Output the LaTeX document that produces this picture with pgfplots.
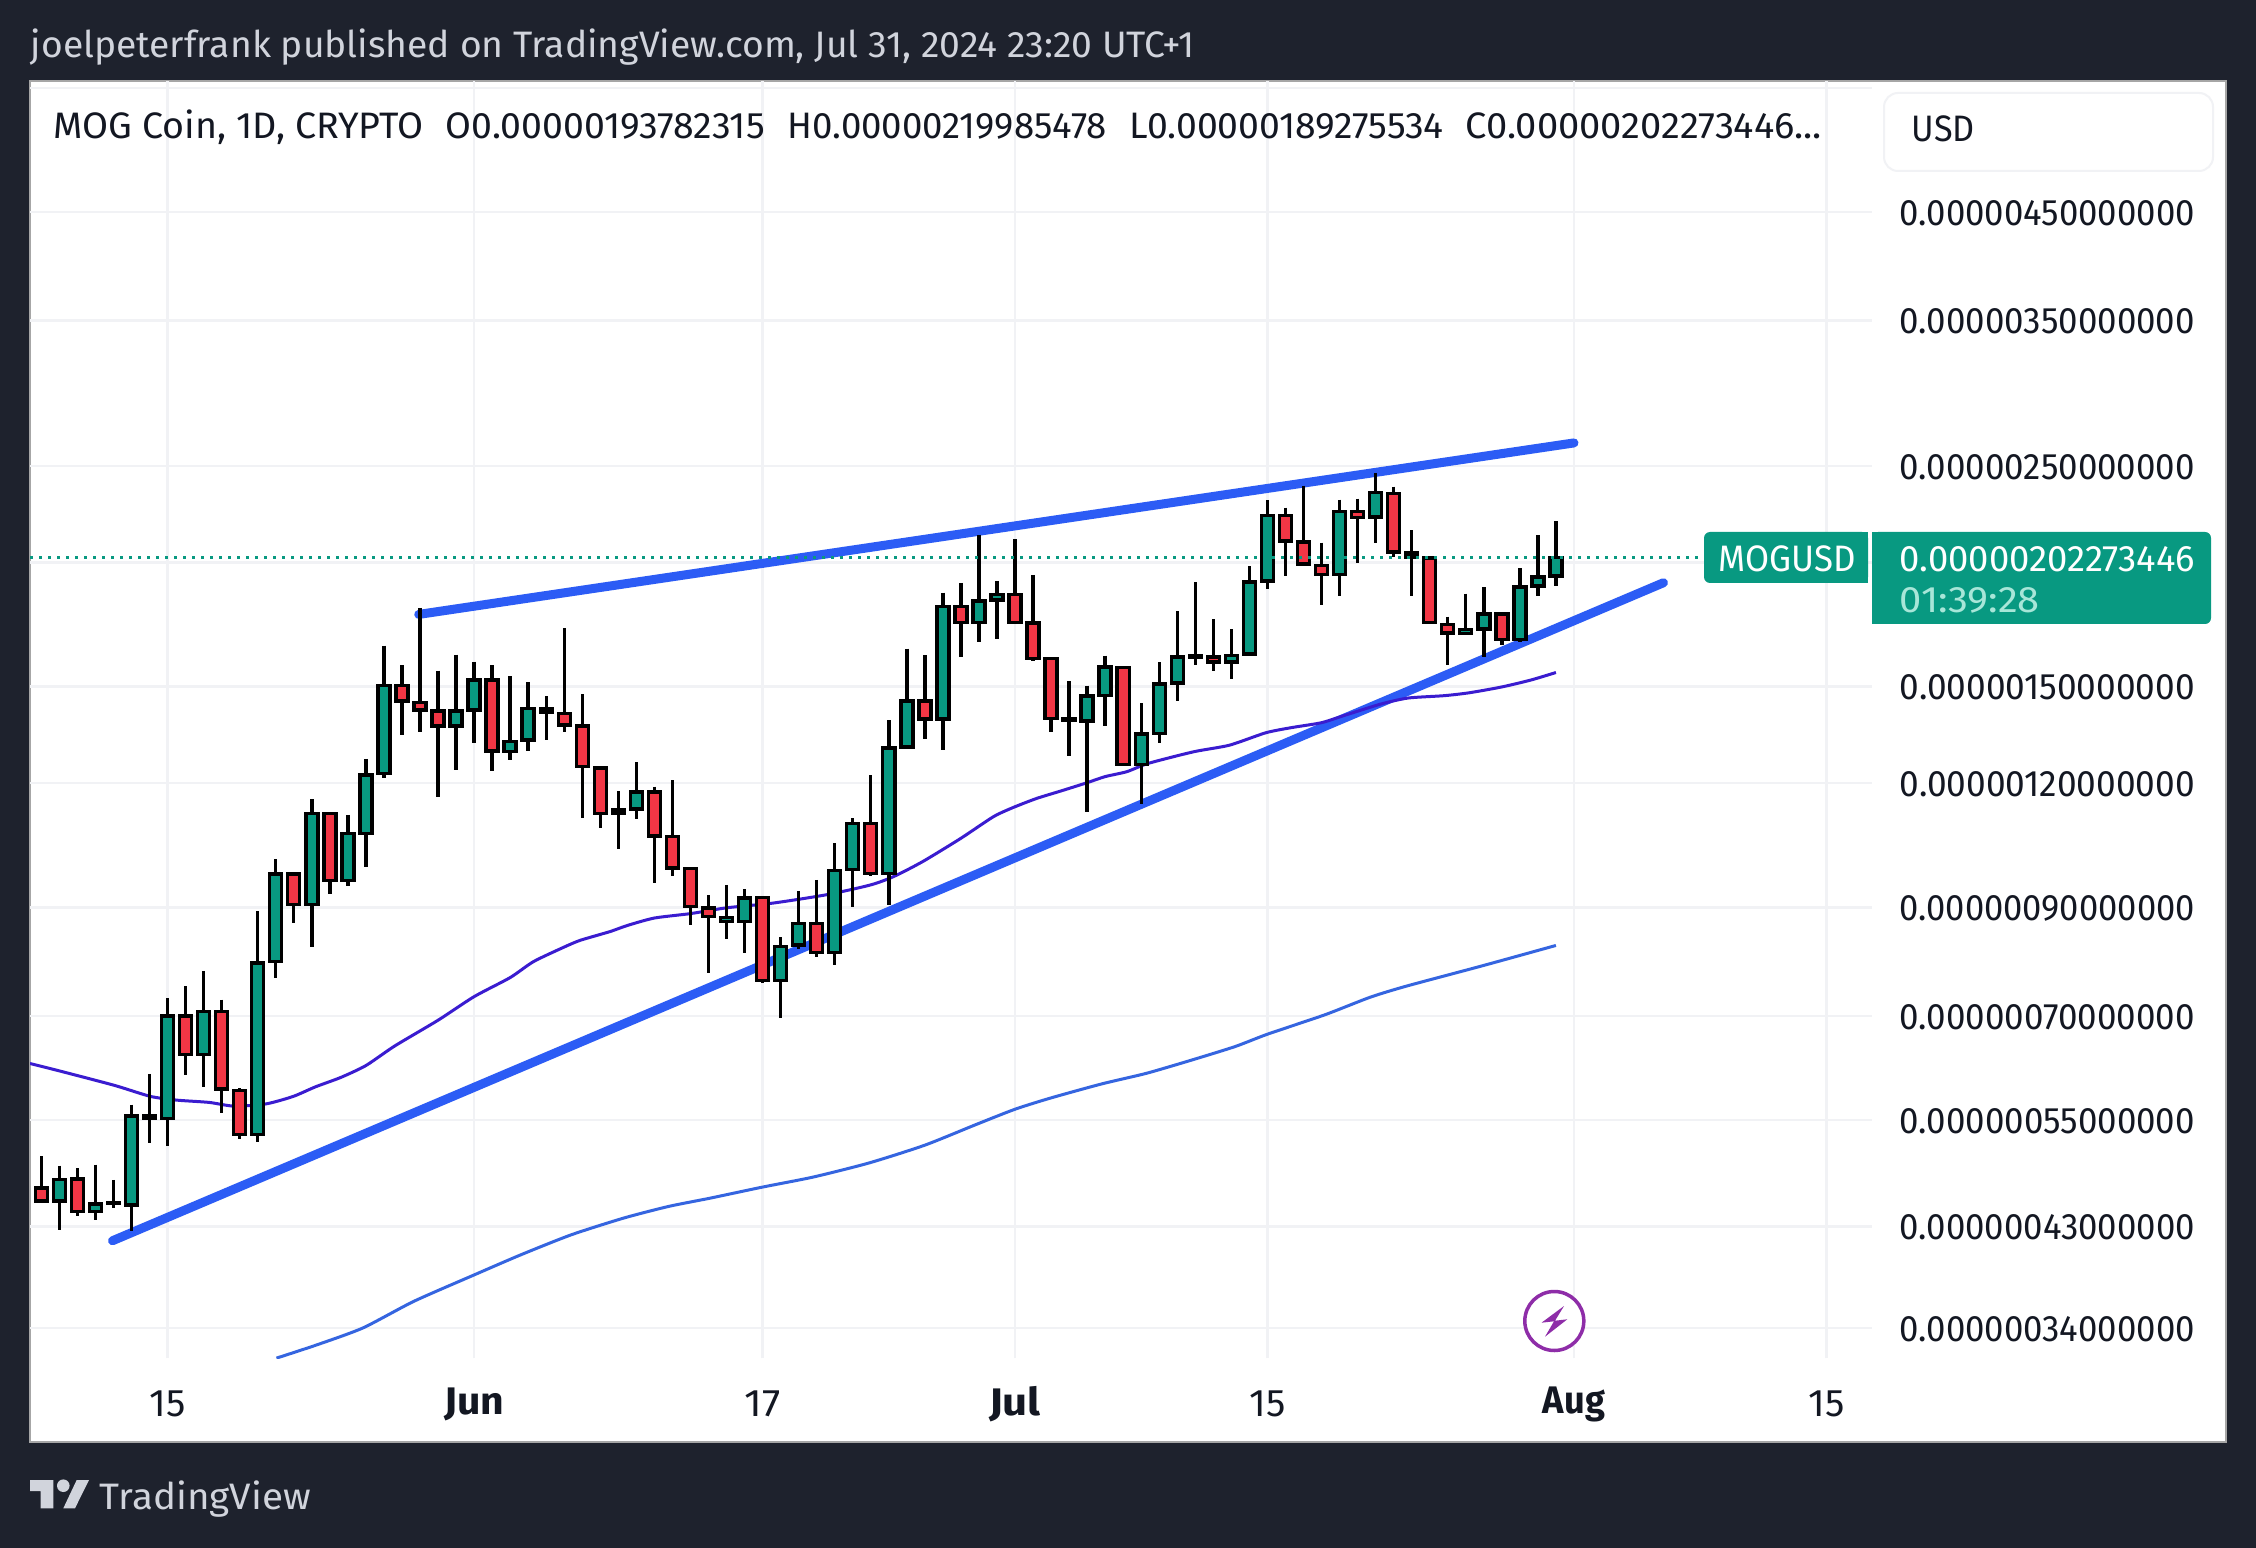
\documentclass[border=0pt]{standalone}
\usepackage{fontspec}
\setmainfont{Fira Sans}
\usepackage{pgfplots}
\usepackage{pgfplotstable}
\pgfplotsset{compat=1.18}
\newlength\px\setlength\px{0.25pt}
\definecolor{bgdark}{HTML}{1E222D}
\definecolor{gridc}{HTML}{F1F2F5}
\definecolor{upc}{HTML}{089981}
\definecolor{downc}{HTML}{F23645}
\definecolor{ink}{HTML}{131722}
\definecolor{headc}{HTML}{D1D4DC}
\definecolor{ma50c}{HTML}{3A1CD0}
\definecolor{ma200c}{HTML}{3565E0}
\definecolor{trendc}{HTML}{2C5CF5}
\definecolor{boltc}{HTML}{8E2DA8}
\definecolor{timec}{HTML}{A8E6D8}
\newcommand\T[2]{\resizebox{#1\px}{\height}{#2}}
\newcommand\fs{\fontsize{9.2pt}{11pt}\selectfont}
\newcommand\fx{\fontsize{9.6pt}{11pt}\selectfont}
% prices in units of 0.000001 USD; day 0 = 15 May 2024
\pgfplotstableread{
d O H L C
-7 0.470 0.506 0.455 0.456
-6 0.456 0.495 0.426 0.479
-5 0.480 0.492 0.440 0.445
-4 0.445 0.496 0.436 0.453
-3 0.4535 0.479 0.449 0.4545
-2 0.452 0.570 0.425 0.555
-1 0.552 0.612 0.522 0.555
0 0.552 0.729 0.518 0.700
1 0.700 0.750 0.610 0.640
2 0.640 0.777 0.594 0.707
3 0.707 0.727 0.559 0.591
4 0.589 0.592 0.527 0.532
5 0.532 0.892 0.523 0.791
6 0.794 1.006 0.765 0.972
7 0.972 0.976 0.867 0.906
8 0.906 1.156 0.821 1.118
9 1.118 1.121 0.929 0.957
10 0.957 1.115 0.946 1.068
11 1.068 1.269 0.988 1.223
12 1.226 1.650 1.213 1.505
13 1.505 1.577 1.340 1.451
14 1.447 1.800 1.350 1.421
15 1.418 1.557 1.162 1.370
16 1.370 1.616 1.238 1.418
17 1.421 1.590 1.316 1.524
18 1.524 1.577 1.235 1.293
19 1.291 1.537 1.267 1.322
20 1.326 1.516 1.291 1.427
21 1.415 1.467 1.326 1.427
22 1.410 1.717 1.350 1.372
23 1.369 1.474 1.108 1.246
24 1.242 1.246 1.082 1.119
25 1.127 1.178 1.030 1.119
26 1.130 1.259 1.105 1.175
27 1.175 1.190 0.953 1.062
28 1.060 1.208 0.967 0.986
29 0.984 0.987 0.863 0.902
30 0.899 0.925 0.773 0.881
31 0.871 0.948 0.837 0.879
32 0.871 0.939 0.810 0.920
33 0.921 0.923 0.755 0.760
34 0.760 0.840 0.697 0.822
35 0.825 0.935 0.817 0.867
36 0.867 0.959 0.803 0.811
37 0.811 1.044 0.787 0.980
38 0.983 1.106 0.900 1.092
39 1.092 1.222 0.967 0.974
40 0.974 1.388 0.904 1.301
41 1.305 1.638 1.303 1.451
42 1.451 1.613 1.329 1.392
43 1.392 1.865 1.296 1.805
44 1.805 1.908 1.606 1.741
45 1.741 2.131 1.663 1.830
46 1.833 1.916 1.676 1.856
47 1.856 2.111 1.735 1.741
48 1.738 1.943 1.592 1.600
49 1.601 1.605 1.351 1.393
50 1.388 1.519 1.278 1.393
51 1.386 1.504 1.123 1.468
52 1.470 1.612 1.369 1.570
53 1.567 1.572 1.250 1.253
54 1.253 1.443 1.142 1.344
55 1.346 1.588 1.317 1.509
56 1.513 1.786 1.452 1.607
57 1.606 1.910 1.579 1.611
58 1.606 1.753 1.556 1.588
59 1.588 1.713 1.526 1.613
60 1.618 1.982 1.616 1.912
61 1.916 2.309 1.881 2.230
62 2.230 2.270 1.939 2.102
63 2.097 2.389 1.988 1.992
64 1.987 2.094 1.811 1.946
65 1.946 2.313 1.851 2.251
66 2.251 2.318 1.998 2.218
67 2.222 2.460 2.092 2.352
68 2.347 2.383 2.025 2.049
69 2.044 2.154 1.851 2.025
70 2.020 2.023 1.736 1.739
71 1.733 1.764 1.578 1.698
72 1.696 1.861 1.692 1.712
73 1.714 1.888 1.605 1.774
74 1.774 1.780 1.653 1.674
75 1.673 1.973 1.664 1.890
76 1.893 2.130 1.851 1.933
77 1.93782 2.19985 1.89276 2.02273
}\candles
\pgfplotstableread{
d p
-7.63 0.627
-5.95 0.616
-2.94 0.596
-0.95 0.581
0.52 0.576
2.3 0.573
3.7 0.568
5.46 0.571
6.97 0.581
8.2 0.594
9.6 0.607
11 0.624
12.6 0.653
15 0.693
17 0.732
19 0.765
20.3 0.794
22 0.821
22.9 0.834
24.55 0.851
25.5 0.863
27 0.878
29 0.887
31 0.899
33.6 0.909
36.6 0.927
39 0.948
40.3 0.967
41.9 1.001
44 1.056
45.8 1.110
46.9 1.134
48.2 1.158
49.6 1.179
51 1.201
52 1.218
53.2 1.232
54.4 1.256
56.9 1.290
58.9 1.310
60.9 1.348
62.3 1.364
64 1.380
65.3 1.404
67.3 1.441
68.8 1.461
70.8 1.469
72.2 1.479
74 1.499
75.6 1.523
77 1.550
}\mafifty
\pgfplotstableread{
d p
6.04 0.317
8.3 0.327
10.84 0.340
13.66 0.3616
17.02 0.3845
19.6 0.4027
22.4 0.4218
25.3 0.4384
27.8 0.4504
30.1 0.4591
33 0.471
35.8 0.482
38.9 0.498
42 0.519
44.8 0.544
47 0.564
49 0.579
51.8 0.598
54.3 0.613
56.8 0.632
59.2 0.652
61 0.671
64.2 0.702
66.7 0.731
68.7 0.750
72.9 0.786
77 0.824
}\matwohundred
\begin{document}
\begin{tikzpicture}
\begin{scope}[x=0.25pt,y=-0.25pt]
\useasboundingbox (0,0) rectangle (2256,1548);
\fill[bgdark] (0,0) rectangle (2256,1548);
\filldraw[fill=white,draw=gray!70,line width=1.5\px] (30,81) rectangle (2226,1442);
\end{scope}
\begin{axis}[
  at={(7.5pt,-339.5pt)},anchor=south west,
  scale only axis,width=460.5pt,height=319.25pt,
  ymode=log,xmin=-7.63,xmax=94.53,ymin=0.3171,ymax=6.095,
  axis line style={draw=none},tick style={draw=none},
  major tick length=0pt,yminorticks=false,xminorticks=false,
  xmajorgrids,ymajorgrids,
  grid style={draw=gridc,line width=2.5\px},
  xtick={0,17,33,47,61,78,92},
  xticklabels={\T{36}{15},\T{60}{\textbf{Jun}},\T{36}{17},\T{52}{\textbf{Jul}},\T{36}{15},\T{62}{\textbf{Aug}},\T{36}{15}},
  ytick={0.34,0.43,0.55,0.7,0.9,1.2,1.5,2.0,2.5,3.5,4.5,6.0},
  yticklabels={\T{295}{0.00000034000000},\T{295}{0.00000043000000},\T{295}{0.00000055000000},\T{295}{0.00000070000000},\T{295}{0.00000090000000},\T{295}{0.00000120000000},\T{295}{0.00000150000000},{},\T{295}{0.00000250000000},\T{295}{0.00000350000000},\T{295}{0.00000450000000},{}},
  yticklabel pos=right,
  yticklabel style={anchor=west,inner sep=0pt,xshift=27\px,yshift=-1\px,font=\fs,text=ink},
  xticklabel style={anchor=center,inner sep=0pt,yshift=-46\px,font=\fx,text=ink},
  clip=true,
]
\addplot[trendc,line width=9\px,line cap=round] coordinates {(13.93,1.773)(78.0,2.637)};
\addplot[trendc,line width=9\px,line cap=round] coordinates {(-3.05,0.416)(82.96,1.908)};
\addplot[ma200c,line width=3\px,smooth,tension=0.4] table[x=d,y=p] {\matwohundred};
\addplot[ma50c,line width=3\px,smooth,tension=0.4] table[x=d,y=p] {\mafifty};
\pgfplotsforeachungrouped \i in {0,...,84}{
  \pgfplotstablegetelem{\i}{d}\of\candles\let\cd\pgfplotsretval
  \pgfplotstablegetelem{\i}{O}\of\candles\let\co\pgfplotsretval
  \pgfplotstablegetelem{\i}{H}\of\candles\let\ch\pgfplotsretval
  \pgfplotstablegetelem{\i}{L}\of\candles\let\cl\pgfplotsretval
  \pgfplotstablegetelem{\i}{C}\of\candles\let\cc\pgfplotsretval
  \pgfmathsetmacro\xa{\cd-0.333}
  \pgfmathsetmacro\xb{\cd+0.333}
  \pgfmathparse{\cc>=\co?1:0}
  \ifdim\pgfmathresult pt>0.5pt \def\cf{upc}\else\def\cf{downc}\fi
  \edef\temp{\noexpand\addplot[black,line width=3.4\noexpand\px] coordinates {(\cd,\ch)(\cd,\cl)};
    \noexpand\addplot[draw=black,fill=\cf,line width=3.4\noexpand\px] coordinates {(\xa,\co)(\xb,\co)(\xb,\cc)(\xa,\cc)} --cycle;}
  \temp
}
\addplot[upc,line width=3\px,dash pattern=on 3\px off 6\px] coordinates {(-7.63,2.02273)(85.2,2.02273)};
\end{axis}
\begin{scope}[x=0.25pt,y=-0.25pt]
\tikzset{lb/.style={anchor=base west,inner sep=0pt,font=\fs}}
\node[lb,text=headc] at (30,57.5) {\T{1164}{joelpeterfrank published on TradingView.com, Jul 31, 2024 23:20 UTC+1}};
\node[lb,text=ink] at (53,139) {\T{370}{MOG Coin, 1D, CRYPTO}};
\node[lb,text=ink] at (445,139) {\T{319}{O0.00000193782315}};
\node[lb,text=ink] at (787,139) {\T{319}{H0.00000219985478}};
\node[lb,text=ink] at (1129,139) {\T{314}{L0.00000189275534}};
\node[lb,text=ink] at (1465,139) {\T{356}{C0.00000202273446...}};
\filldraw[fill=white,draw=gridc,line width=2\px,rounded corners=14\px] (1884,93) rectangle (2213,171);
\node[lb,text=ink] at (1911,142) {\T{63}{USD}};
\fill[upc,rounded corners=6\px] (1704,532) -- (1868,532) -- (1868,583) -- (1704,583) -- cycle;
\fill[upc] (1760,532) rectangle (1868,583);
\fill[upc,rounded corners=6\px] (1872,532) rectangle (2211,624);
\fill[upc] (1872,532) rectangle (1900,624);
\node[lb,text=white] at (1718,571.5) {\T{137}{MOGUSD}};
\node[lb,text=white] at (1899,571.5) {\T{295}{0.00000202273446}};
\node[lb,text=timec] at (1899,612.5) {\T{140}{01:39:28}};
\filldraw[fill=white,draw=boltc,line width=3.5\px] (1554.3,1321) circle[radius=29.5];
\fill[boltc] (1564,1306) -- (1541.5,1322.7) -- (1554,1321.3) -- (1545,1336.7) -- (1567.3,1319.3) -- (1555,1320.7) -- cycle;
\fill[headc] (30,1480) -- (53.3,1480) -- (53.3,1508.3) -- (40.7,1508.3) -- (40.7,1491) -- (30,1491) -- cycle;
\fill[headc] (63.3,1485.7) circle[radius=6.3];
\fill[headc] (76.7,1480) -- (89,1480) -- (75,1508.3) -- (63.3,1508.3) -- cycle;
\node[lb,text=headc] at (99,1509) {\T{211}{TradingView}};
\end{scope}
\end{tikzpicture}
\end{document}
